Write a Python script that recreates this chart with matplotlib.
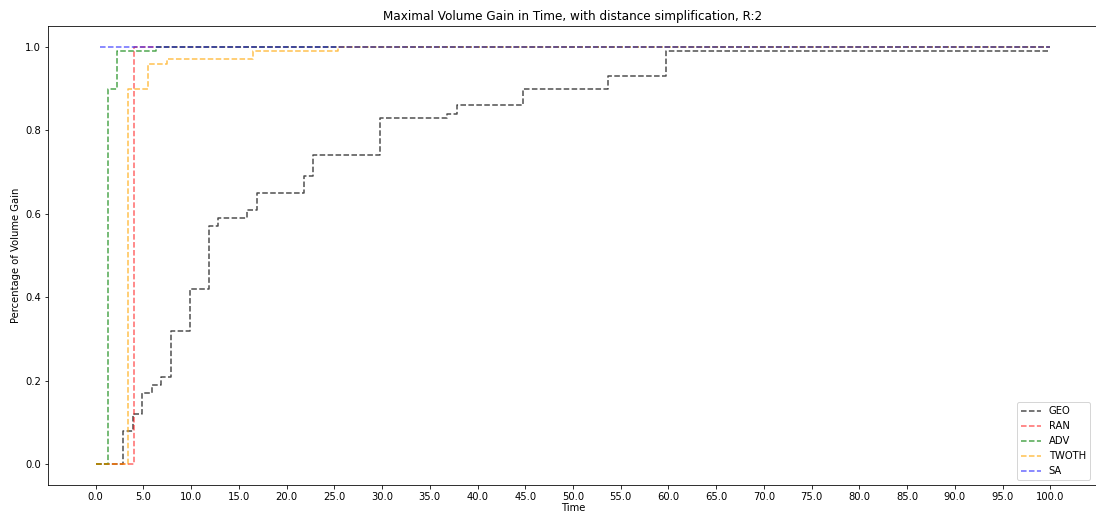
import matplotlib
matplotlib.use("Agg")
import matplotlib.pyplot as plt
import numpy as np

# step points (time, share of volume gain) per strategy
geo_t = [0, 2.83, 3.95, 4.83, 5.88, 6.85, 7.9, 9.9, 11.9, 12.86, 15.84, 16.9,
         21.8, 22.8, 29.76, 36.8, 37.8, 44.76, 53.7, 59.74, 100]
geo_v = [0, 0.08, 0.12, 0.17, 0.19, 0.21, 0.32, 0.42, 0.57, 0.59, 0.61, 0.65,
         0.69, 0.74, 0.83, 0.84, 0.86, 0.90, 0.93, 0.99, 0.99]

ran_t = [0, 4.0, 100]
ran_v = [0, 1.0, 1.0]

adv_t = [0, 1.24, 2.27, 6.3, 100]
adv_v = [0, 0.90, 0.99, 1.0, 1.0]

twoth_t = [0, 3.4, 5.48, 7.47, 16.47, 25.4, 100]
twoth_v = [0, 0.90, 0.96, 0.97, 0.99, 1.0, 1.0]

sa_t = [0.45, 100]
sa_v = [1.0, 1.0]

W, H, DPI = 1096, 513, 72
fig = plt.figure(figsize=(W / DPI, H / DPI), dpi=DPI)
ax = fig.add_axes([48 / W, (H - 485) / H, (W - 46) / W, (485 - 26) / H])

ax.plot(geo_t, geo_v, '--', drawstyle='steps-post', color='black', alpha=0.7, label='GEO')
ax.plot(ran_t, ran_v, '--', drawstyle='steps-post', color='red', alpha=0.6, label='RAN')
ax.plot(adv_t, adv_v, '--', drawstyle='steps-post', color='green', alpha=0.7, label='ADV')
ax.plot(twoth_t, twoth_v, '--', drawstyle='steps-post', color='orange', alpha=0.7, label='TWOTH')
ax.plot(sa_t, sa_v, '--', drawstyle='steps-post', color='blue', alpha=0.6, label='SA')

ax.set_xticks(np.arange(0, 101, 5))
ax.set_xticklabels([f'{v:.1f}' for v in np.arange(0, 101, 5)])
ax.set_xlim(-5, 105)
ax.set_ylim(-0.05, 1.05)
ax.set_xlabel('Time', labelpad=1)
ax.set_ylabel('Percentage of Volume Gain')
ax.set_title('Maximal Volume Gain in Time, with distance simplification, R:2')
ax.legend(loc='lower right', bbox_to_anchor=(0.997, 0.0))

fig.savefig('out.png', dpi=DPI)
